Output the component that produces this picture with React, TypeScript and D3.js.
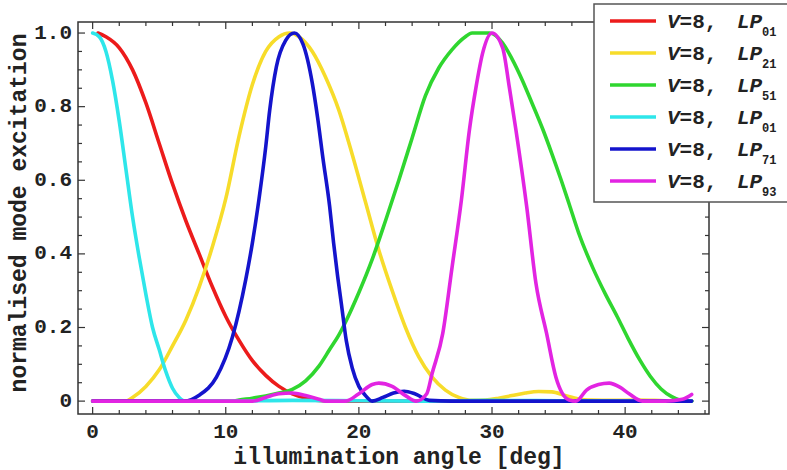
import React from "react";
import * as d3 from "d3";

type Pt = [number, number];

const xTickValues = [0, 10, 20, 30, 40];
const yTickValues = [0, 0.2, 0.4, 0.6, 0.8, 1.0];
const yTickLabels = ["0", "0.2", "0.4", "0.6", "0.8", "1.0"];
const xTitle = "illumination angle [deg]";
const yTitle = "normalised mode excitation";

const seriesNames = ["01", "21", "51", "01", "71", "93"];
const seriesColors = ["#ec1b1b", "#f7dc2a", "#2fd62f", "#2ee6ea", "#1414cc", "#e224e2"];

const redLP01: Pt[] = [
  [0.4, 1.0], [1, 0.99], [2, 0.96], [3, 0.9], [4, 0.81], [5, 0.7], [6, 0.59], [7, 0.49],
  [8, 0.4], [9, 0.31], [10, 0.23], [11, 0.165], [12, 0.11], [13, 0.07], [14, 0.04],
  [15, 0.02], [16, 0.008], [16.5, 0.003], [18, 0], [25, 0], [35, 0], [45, 0],
];

const yellowLP21: Pt[] = [
  [0, 0], [1, 0], [2, 0], [2.5, 0], [3, 0.01], [4, 0.04], [5, 0.085], [6, 0.15], [7, 0.22],
  [8, 0.31], [9, 0.42], [10, 0.55], [11, 0.72], [12, 0.86], [13, 0.95], [14, 0.99],
  [14.8, 1.0], [15.5, 0.99], [16.5, 0.95], [17.5, 0.88], [18.5, 0.79], [19.5, 0.67],
  [20.5, 0.54], [21.5, 0.41], [22.5, 0.3], [23.5, 0.2], [24.5, 0.12], [25.5, 0.065],
  [26.5, 0.03], [27.5, 0.01], [28.5, 0.002], [29.5, 0.003], [30.5, 0.008], [31.5, 0.015],
  [32.5, 0.022], [33.5, 0.026], [34.5, 0.025], [35.5, 0.015], [36.5, 0.006], [37.5, 0.003],
  [39, 0.002], [41, 0.003], [43, 0.001], [45, 0],
];

const greenLP51: Pt[] = [
  [0, 0], [5, 0], [10.5, 0], [11, 0.003], [12, 0.008], [13, 0.014], [14, 0.022], [15, 0.032],
  [16, 0.055], [17, 0.095], [17.8, 0.14], [18.5, 0.18], [19, 0.215], [20, 0.295],
  [21, 0.385], [22, 0.49], [23, 0.6], [24, 0.715], [25, 0.83], [26, 0.905], [27, 0.955],
  [28, 0.99], [28.5, 1.0], [29.8, 1.0], [30.8, 0.973], [31.5, 0.93], [32.3, 0.87],
  [33, 0.81], [33.8, 0.74], [34.5, 0.672], [35.2, 0.6], [35.8, 0.535], [36.5, 0.458],
  [37.6, 0.36], [38.5, 0.292], [39.4, 0.23], [40.2, 0.172], [41.1, 0.112], [41.9, 0.067],
  [42.7, 0.033], [43.5, 0.012], [44.1, 0.003], [45, 0],
];

const cyanLP01: Pt[] = [
  [0, 1.0], [0.5, 0.99], [1, 0.95], [1.5, 0.87], [2, 0.76], [2.5, 0.63], [3, 0.5],
  [3.5, 0.39], [4, 0.29], [4.5, 0.2], [5, 0.14], [5.5, 0.08], [6, 0.035], [6.5, 0.01],
  [7, 0], [10, 0], [15, 0.002], [20, 0.001], [25, 0], [30, 0.002], [35, 0.001], [40, 0], [45, 0],
];

const blueLP71: Pt[] = [
  [0, 0], [3, 0], [6.9, 0], [8, 0.016], [9.3, 0.065], [10.5, 0.174], [11.5, 0.33],
  [12, 0.43], [12.5, 0.55], [13, 0.69], [13.3, 0.79], [13.8, 0.908], [14.5, 0.98],
  [15.15, 1.0], [15.8, 0.97], [16.5, 0.864], [16.9, 0.77], [17.3, 0.66], [17.8, 0.53],
  [18.1, 0.43], [18.4, 0.34], [18.7, 0.26], [19.05, 0.165], [19.5, 0.09], [20, 0.04],
  [20.5, 0.015], [21, 0], [21.8, 0.01], [22.6, 0.022], [23.4, 0.027], [24.2, 0.02],
  [25.3, 0.002], [27, 0], [30, 0], [35, 0], [40, 0], [45, 0],
];

const magentaLP93: Pt[] = [
  [0, 0], [5, 0], [10, 0], [12, 0], [13, 0.01], [14, 0.02], [15, 0.022], [16, 0.015],
  [17, 0.005], [17.5, 0], [19, 0], [20, 0.02], [21, 0.045], [21.5, 0.049], [22.5, 0.04],
  [23.5, 0.015], [24.3, 0], [25.1, 0.02], [25.5, 0.075], [26.3, 0.184], [27, 0.364],
  [27.7, 0.546], [28.3, 0.736], [28.8, 0.853], [29.3, 0.946], [30, 1.0], [30.8, 0.96],
  [31.3, 0.853], [31.8, 0.736], [32.6, 0.53], [33.3, 0.32], [34.1, 0.184], [34.8, 0.065],
  [35.8, 0.003], [36.3, 0], [37.1, 0.03], [38, 0.045], [38.8, 0.049], [39.6, 0.038],
  [40.3, 0.02], [41.3, 0], [43, 0], [44.3, 0.005], [45, 0.018],
];

const allSeries = [redLP01, yellowLP21, greenLP51, cyanLP01, blueLP71, magentaLP93];

const FONT = "'Courier New', 'Liberation Mono', monospace";

export default function App() {
  const W = 787;
  const H = 470;
  const x = d3.scaleLinear().domain([-1.1, 46.3]).range([78, 709]);
  const y = d3.scaleLinear().domain([-0.035, 1.03]).range([414, 22]);
  const [x0, x1] = x.range();
  const [yb, yt] = y.range();

  const line = d3
    .line<Pt>()
    .x((d) => x(d[0]))
    .y((d) => y(d[1]))
    .curve(d3.curveMonotoneX);

  const xMinor = d3.range(0, 47, 2).filter((v) => v % 10 !== 0);
  const yMinor = d3.range(0, 1.03, 0.05).filter((v) => Math.abs(v * 5 - Math.round(v * 5)) > 1e-6);

  const tickColor = "#333";

  return (
    <svg
      width={W}
      height={H}
      style={{ position: "absolute", left: 0, top: 0, display: "block", background: "#fff" }}
    >
      <rect x={0} y={0} width={W} height={H} fill="#fff" />
      <g>
        {allSeries.map((s, i) => (
          <path
            key={i}
            d={line(s) || ""}
            fill="none"
            stroke={seriesColors[i]}
            strokeWidth={3.6}
            strokeLinejoin="round"
            strokeLinecap="round"
          />
        ))}
      </g>
      <rect x={x0} y={yt} width={x1 - x0} height={yb - yt} fill="none" stroke={tickColor} strokeWidth={1.5} />
      <g stroke={tickColor} strokeWidth={1.2}>
        {xTickValues.map((v) => (
          <g key={"xm" + v}>
            <line x1={x(v)} x2={x(v)} y1={yb} y2={yb - 7} />
            <line x1={x(v)} x2={x(v)} y1={yt} y2={yt + 7} />
          </g>
        ))}
        {xMinor.map((v) => (
          <g key={"xn" + v}>
            <line x1={x(v)} x2={x(v)} y1={yb} y2={yb - 4} />
            <line x1={x(v)} x2={x(v)} y1={yt} y2={yt + 4} />
          </g>
        ))}
        {yTickValues.map((v) => (
          <g key={"ym" + v}>
            <line x1={x0} x2={x0 + 7} y1={y(v)} y2={y(v)} />
            <line x1={x1} x2={x1 - 7} y1={y(v)} y2={y(v)} />
          </g>
        ))}
        {yMinor.map((v) => (
          <g key={"yn" + v}>
            <line x1={x0} x2={x0 + 4} y1={y(v)} y2={y(v)} />
            <line x1={x1} x2={x1 - 4} y1={y(v)} y2={y(v)} />
          </g>
        ))}
      </g>
      <g fontFamily={FONT} fontSize={21} fontWeight="bold" fill="#222">
        {xTickValues.map((v) => (
          <text key={"xl" + v} x={x(v)} y={438} textAnchor="middle">
            {v}
          </text>
        ))}
        {yTickValues.map((v, i) => (
          <text key={"yl" + v} x={72} y={y(v)} textAnchor="end" dominantBaseline="central">
            {yTickLabels[i]}
          </text>
        ))}
      </g>
      <text x={399} y={464} textAnchor="middle" fontFamily={FONT} fontSize={23} fontWeight="bold" fill="#222">
        {xTitle}
      </text>
      <text
        transform={`translate(20,${(yb + yt) / 2 - 5}) rotate(-90)`}
        textAnchor="middle"
        dominantBaseline="central"
        fontFamily={FONT}
        fontSize={23}
        fontWeight="bold"
        fill="#222"
      >
        {yTitle}
      </text>
      <g>
        <rect x={594} y={4} width={200} height={198} fill="#fff" stroke="#555" strokeWidth={1.5} />
        {seriesNames.map((n, i) => {
          const cy = 21 + i * 32;
          return (
            <g key={"lg" + i}>
              <line x1={610} x2={656} y1={cy} y2={cy} stroke={seriesColors[i]} strokeWidth={3.6} />
              <text x={667} y={cy + 7} fontFamily={FONT} fontSize={21} fontWeight="bold" fill="#222">
                <tspan fontStyle="italic">V</tspan>
                <tspan>=8,</tspan>
              </text>
              <text x={737} y={cy + 7} fontFamily={FONT} fontSize={21} fontWeight="bold" fontStyle="italic" fill="#222">
                LP
              </text>
              <text x={762} y={cy + 15} fontFamily={FONT} fontSize={12} fontWeight="bold" fill="#222">
                {n}
              </text>
            </g>
          );
        })}
      </g>
    </svg>
  );
}
